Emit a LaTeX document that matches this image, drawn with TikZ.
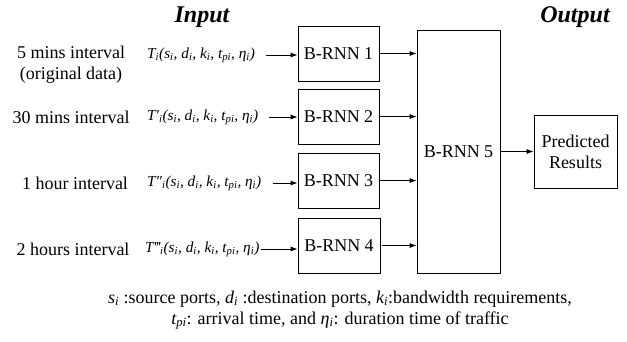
\documentclass[tikz,border=0pt]{standalone}
\usepackage{fontspec}
\setmainfont{LiberationSerif}[Extension=.ttf, UprightFont=*-Regular, BoldFont=*-Bold, ItalicFont=*-Italic, BoldItalicFont=*-BoldItalic]
\usepackage{tikz}
\usetikzlibrary{arrows.meta}
\newcommand{\sbi}[1]{\textsubscript{#1}}
\newcommand{\flow}[1]{{\itshape #1\sbi{i}(s\sbi{i}, d\sbi{i}, k\sbi{i}, t\sbi{pi}, η\sbi{i})}}
\tikzstyle{rnn}=[draw, line width=0.8pt, inner sep=0pt, font=\fontsize{18}{21}\selectfont]
\tikzstyle{lbl}=[inner sep=0pt, align=center, font=\fontsize{18}{21}\selectfont]
\tikzstyle{frm}=[inner sep=0pt, anchor=west, font=\fontsize{15.3}{18}\selectfont]
\tikzstyle{ttl}=[inner sep=0pt, font=\fontsize{24}{28}\selectfont\bfseries\itshape]
\tikzstyle{flw}=[-{Latex[length=7pt, width=5pt]}, line width=0.8pt]

\begin{document}
\begin{tikzpicture}[x=1pt, y=-1pt]
        \useasboundingbox (0, 0) rectangle (627, 341);
        \node[ttl] (tin) at (202, 17) {Input};
        \node[ttl] (tout) at (575, 17) {Output};
        % rows on the left
        \node[lbl] (L1) at (71, 65) {5 mins interval\\(original data)};
        \node[lbl] (L2) at (71, 117) {30 mins interval};
        \node[lbl] (L3) at (75, 183) {1 hour interval};
        \node[lbl] (L4) at (73, 249) {2 hours interval};
        \node[frm] (F1) at (147, 55) {\flow{T}};
        \node[frm] (F2) at (147, 117) {\flow{T′}};
        \node[frm] (F3) at (147, 183) {\flow{T″}};
        \node[frm] (F4) at (145, 249) {\flow{T‴}};
        % networks
        \node[rnn, minimum width=81pt, minimum height=55pt] (B1) at (338.5, 53.5) {B-RNN 1};
        \node[rnn, minimum width=81pt, minimum height=55pt] (B2) at (338.5, 116.5) {B-RNN 2};
        \node[rnn, minimum width=81pt, minimum height=55pt] (B3) at (338.5, 180.5) {B-RNN 3};
        \node[rnn, minimum width=82pt, minimum height=55pt] (B4) at (339, 245.5) {B-RNN 4};
        \node[rnn, minimum width=83pt, minimum height=243pt] (B5) at (458.5, 151.5) {B-RNN 5};
        \node[rnn, minimum width=83pt, minimum height=73pt, align=center] (P) at (575.5, 151.5) {Predicted\\Results};
        \draw[flw] ([xshift=11pt]F1.east) -- (F1.east -| B1.west);
        \draw[flw] ([xshift=11pt]F2.east) -- (F2.east -| B2.west);
        \draw[flw] ([xshift=11pt]F3.east) -- (F3.east -| B3.west);
        \draw[flw] ([xshift=1pt]F4.east) -- (F4.east -| B4.west);
        \draw[flw] (B1.east) -- (B1.east -| B5.west);
        \draw[flw] (B2.east) -- (B2.east -| B5.west);
        \draw[flw] (B3.east) -- (B3.east -| B5.west);
        \draw[flw] ([xshift=2pt]B4.east) -- (B4.east -| B5.west);
        \draw[flw] (B5) -- (P);
        % legend
        \node[lbl] (note) at (340, 310) {\textit{s\sbi{i}} :source ports, \textit{d\sbi{i}} :destination ports, \textit{k\sbi{i}}:bandwidth requirements,\\
            \textit{t\sbi{pi}}: arrival time, and \textit{η\sbi{i}}: duration time of traffic};
    \end{tikzpicture}
\end{document}
